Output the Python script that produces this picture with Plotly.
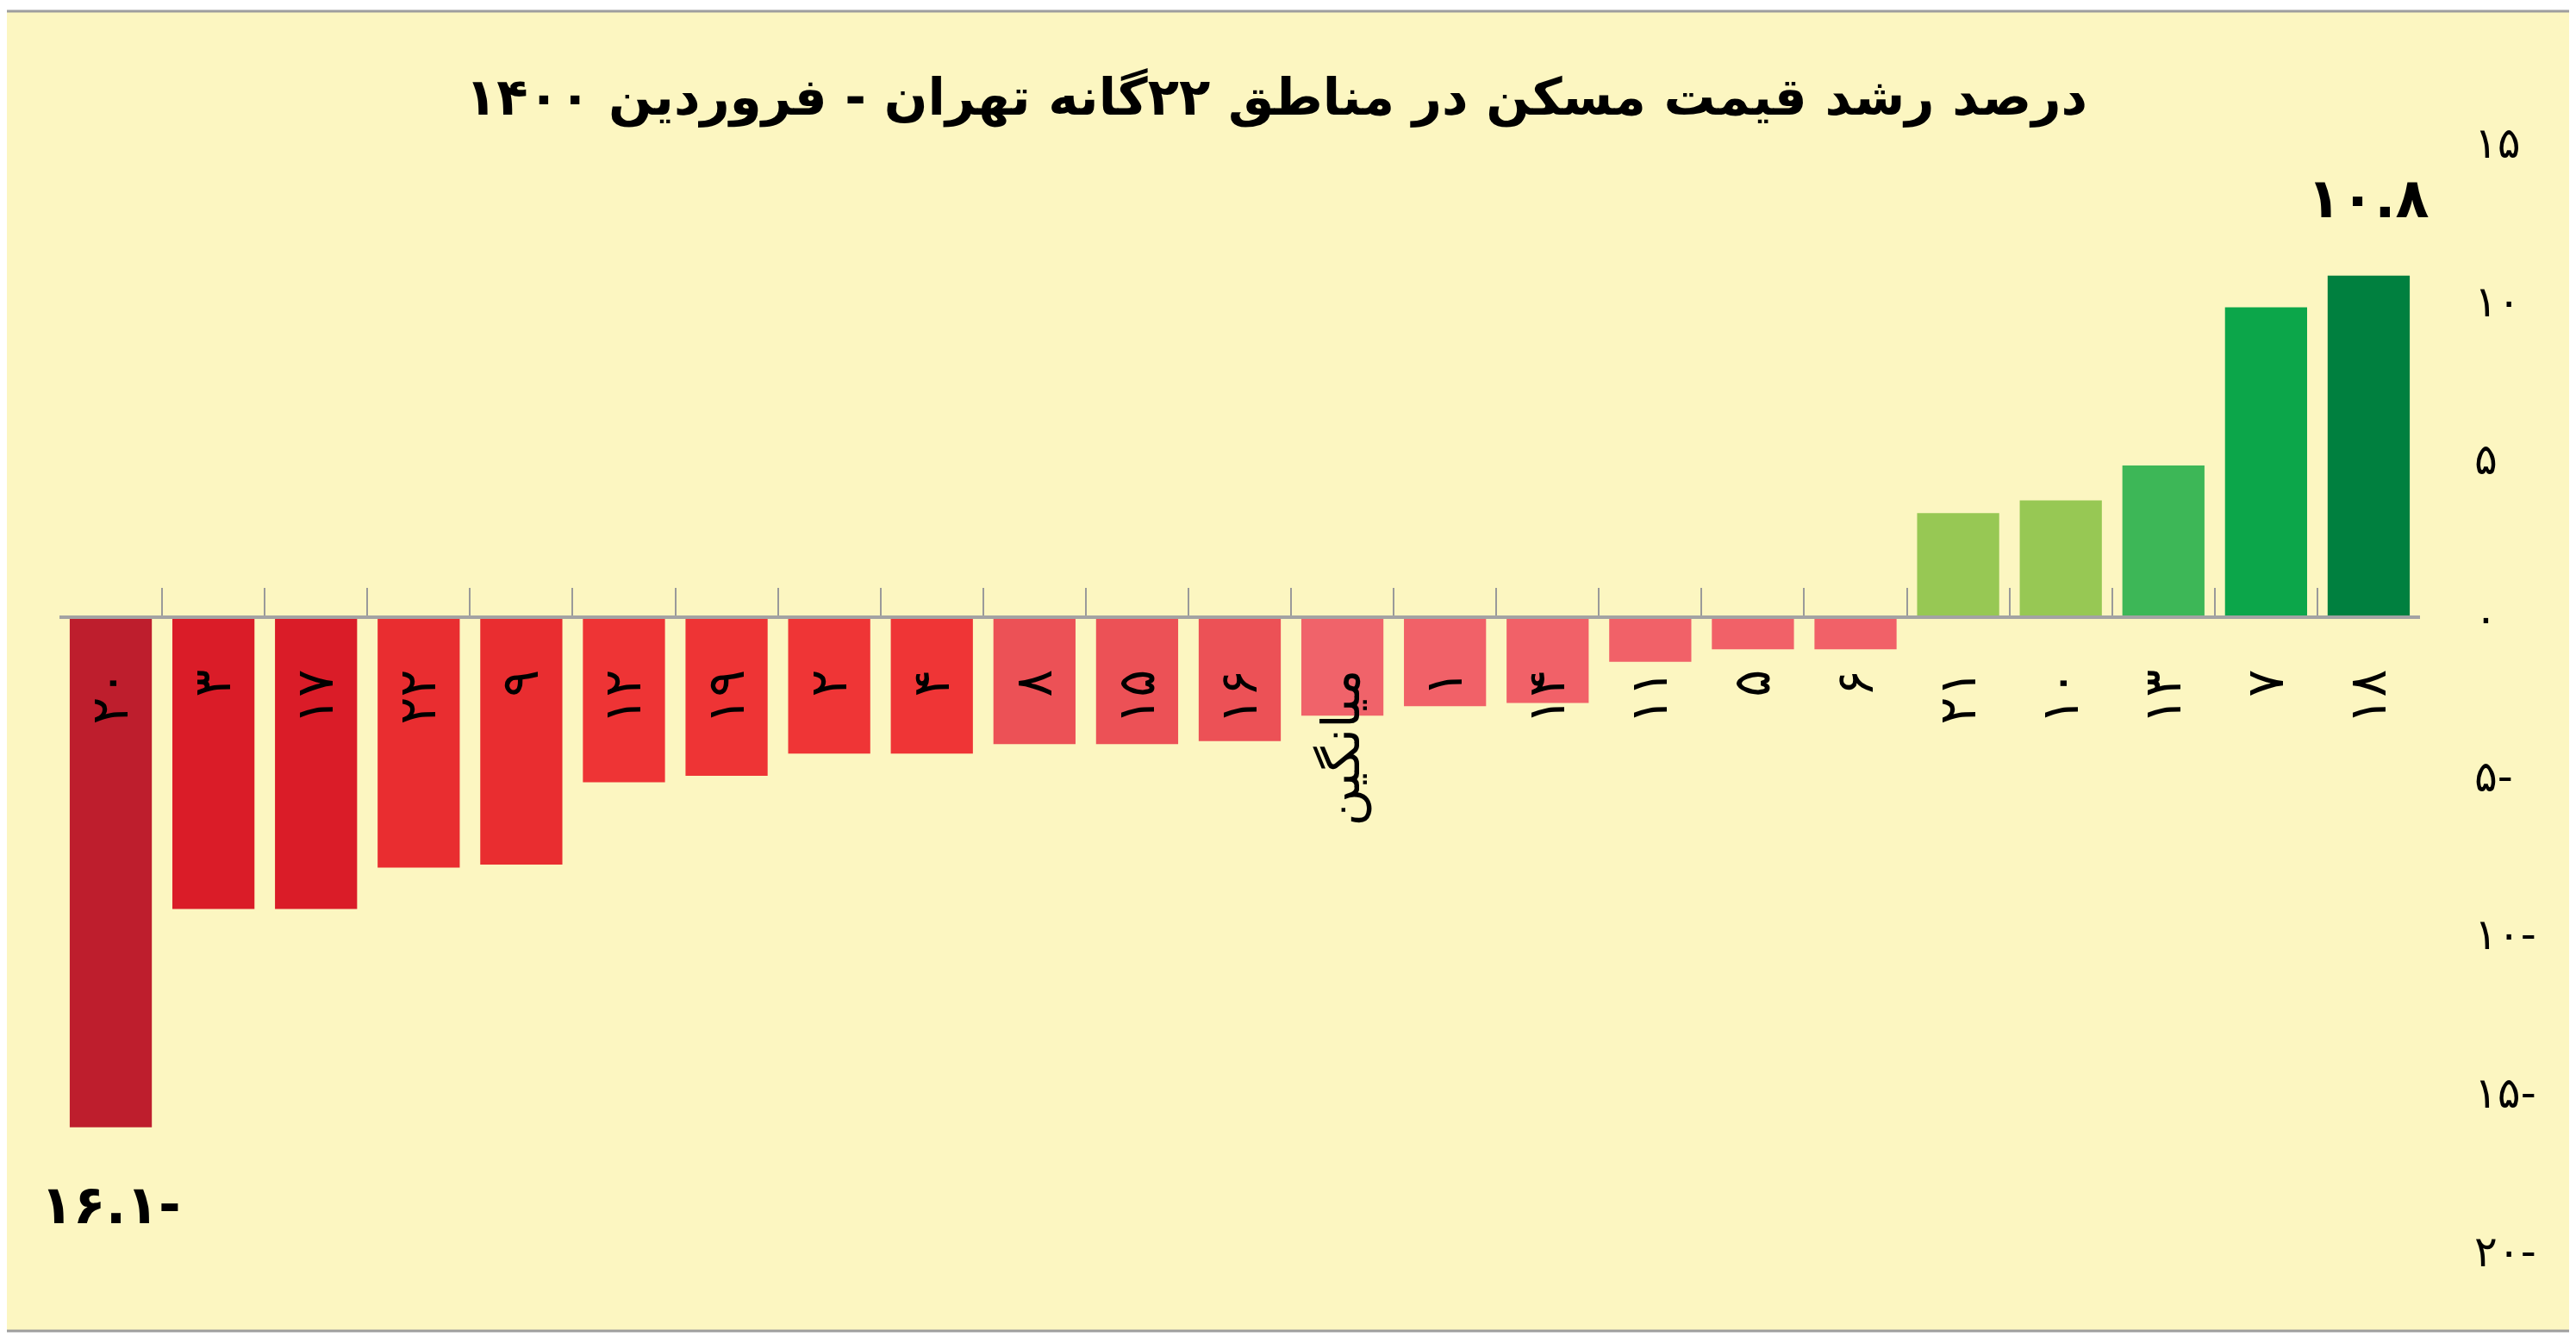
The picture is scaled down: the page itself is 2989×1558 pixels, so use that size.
import plotly.graph_objects as go

# ---------------- data ----------------
districts = ["۲۰", "۳", "۱۷", "۲۲", "۹", "۱۲", "۱۹", "۲", "۴", "۸", "۱۵", "۱۶",
             "میانگین", "۱", "۱۴", "۱۱", "۵", "۶", "۲۱", "۱۰", "۱۳", "۷", "۱۸"]
growth = [-16.1, -9.2, -9.2, -7.9, -7.8, -5.2, -5.0, -4.3, -4.3, -4.0, -4.0, -3.9,
          -3.1, -2.8, -2.7, -1.4, -1.0, -1.0, 3.3, 3.7, 4.8, 9.8, 10.8]
bar_colors = ["#BE1E2D", "#DA1C28", "#DA1C28", "#E92D30", "#E92D30", "#EE3435",
              "#EE3435", "#EF3536", "#EF3536", "#EC5156", "#EC5156", "#EC5156",
              "#F0636A", "#F16168", "#F16168", "#F16168", "#F16168", "#F16168",
              "#97C854", "#97C854", "#3DB757", "#0CA64A", "#00803F"]
y_tickvals = [15, 10, 5, 0, -5, -10, -15, -20]
y_ticktext = ["۱۵", "۱۰", "۵", "۰", "۵-", "۱۰-", "۱۵-", "۲۰-"]
title_text = "درصد رشد قیمت مسکن در مناطق ۲۲گانه تهران - فروردین ۱۴۰۰"

# ---------------- layout geometry ----------------
PAGE_W, PAGE_H = 2989, 1558
OFF = 8                      # default body margin of the html page
W, H = PAGE_W - 2 * OFF, PAGE_H - 2 * OFF
plot_left, plot_right, plot_top, plot_bottom = 69, 2808, 140, 1500   # page px
ml = plot_left - OFF
mr = W - (plot_right - OFF)
mt = plot_top - OFF
mb = H - (plot_bottom - OFF)
y_range = [-21.33, 15.69]
zero_pos = (0 - y_range[0]) / (y_range[1] - y_range[0])
plot_w = plot_right - plot_left
plot_h = plot_bottom - plot_top

FA = str.maketrans("0123456789", "۰۱۲۳۴۵۶۷۸۹")


def to_fa(v):
    s = f"{abs(v):.1f}".translate(FA)
    return s + "-" if v < 0 else s


def px_to_paper_x(px):
    return (px - plot_left) / plot_w


def px_to_paper_y(py):
    return (plot_bottom - py) / plot_h


FONT = "DejaVu Sans"

fig = go.Figure(
    go.Bar(
        x=districts,
        y=growth,
        marker=dict(color=bar_colors, line=dict(width=0)),
        hoverinfo="x+y",
    )
)

# frame (yellow panel with grey border)
fig.add_shape(
    type="rect", xref="paper", yref="paper", layer="below",
    x0=px_to_paper_x(-20), x1=px_to_paper_x(2984),
    y0=px_to_paper_y(1544), y1=px_to_paper_y(13),
    fillcolor="#FCF6C1", line=dict(color="#9E9E9E", width=3),
)

# max / min value labels
imax = growth.index(max(growth))
imin = growth.index(min(growth))
fig.add_annotation(x=districts[imax], y=growth[imax], text=to_fa(growth[imax]),
                   showarrow=False, yanchor="middle", yshift=90,
                   font=dict(family=FONT, size=64, color="#000000", weight="bold"))
fig.add_annotation(x=districts[imin], y=growth[imin], text=to_fa(growth[imin]),
                   showarrow=False, yanchor="middle", yshift=-90,
                   font=dict(family=FONT, size=62, color="#000000", weight="bold"))

fig.update_layout(
    width=W, height=H,
    margin=dict(l=ml, r=mr, t=mt, b=mb, pad=0),
    paper_bgcolor="#FFFFFF",
    plot_bgcolor="rgba(0,0,0,0)",
    showlegend=False,
    bargap=0.2,
    title=dict(text=title_text, xref="container", yref="container",
               x=(1481 - OFF) / W, y=1 - (112 - OFF) / H,
               xanchor="center", yanchor="middle",
               font=dict(family=FONT, size=59.5, color="#000000", weight="bold")),
    xaxis=dict(
        type="category",
        anchor="free", position=zero_pos,
        range=[-0.5, len(districts) - 0.5],
        showline=True, linecolor="#A3A3A3", linewidth=4,
        ticks="inside", tickson="boundaries", ticklen=32, tickwidth=2,
        tickcolor="#9A9A9A",
        tickangle=-90,
        ticklabelstandoff=34,
        tickfont=dict(family=FONT, size=60, color="#000000"),
        showgrid=False, zeroline=False,
    ),
    yaxis=dict(
        range=y_range,
        side="right",
        tickvals=y_tickvals, ticktext=y_ticktext,
        ticks="", ticklabelstandoff=62,
        tickfont=dict(family=FONT, size=50, color="#000000"),
        showgrid=False, zeroline=False, showline=False,
    ),
)

fig.write_html("out.html")
